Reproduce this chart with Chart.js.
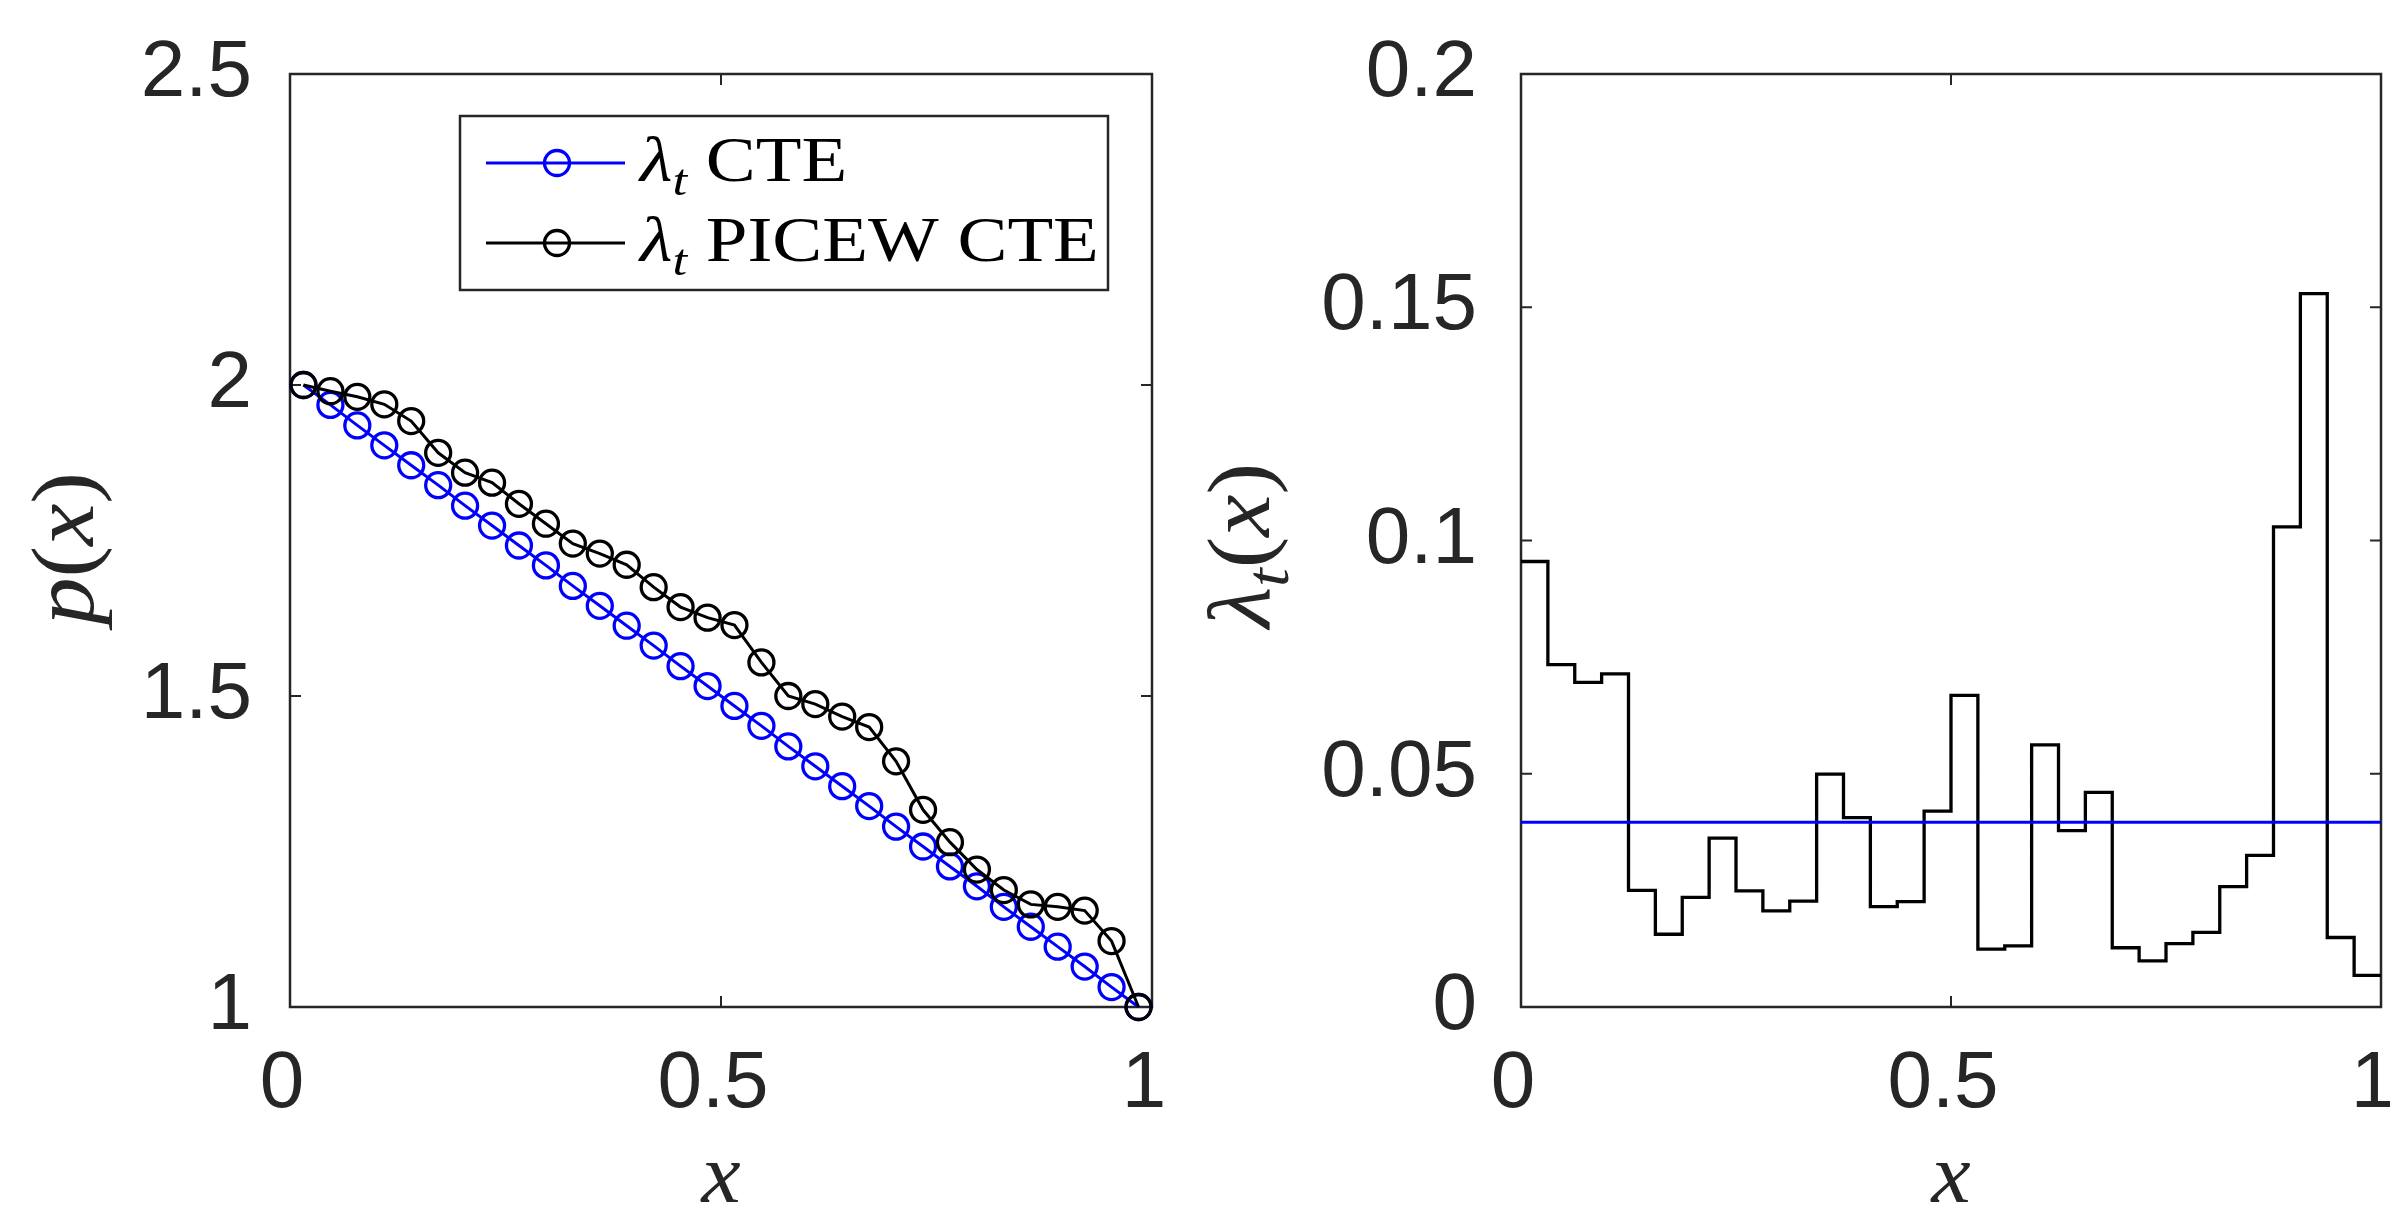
<!DOCTYPE html>
<html lang="de">
<head>
<meta charset="utf-8">
<title>p(x) und λt(x)</title>
<script src="https://cdn.jsdelivr.net/npm/chart.js@4.4.1/dist/chart.umd.min.js"></script>
<style>
  html, body { margin: 0; padding: 0; background: #fff; }
  #wrap { position: relative; width: 2390px; height: 1207px; overflow: hidden; }
  canvas { position: absolute; top: 0; }
  #chartP { left: 0; }
  #chartLam { left: 1195px; }
</style>
</head>
<body>
<div id="wrap">
  <canvas id="chartP" width="1195" height="1207"></canvas>
  <canvas id="chartLam" width="1195" height="1207"></canvas>
</div>
<script>
// --- Daten ---

// Zellmitten, 32 Zellen auf [0, 1]
const xZellen = [
  0.0156, 0.0469, 0.0781, 0.1094, 0.1406, 0.1719, 0.2031, 0.2344,
  0.2656, 0.2969, 0.3281, 0.3594, 0.3906, 0.4219, 0.4531, 0.4844,
  0.5156, 0.5469, 0.5781, 0.6094, 0.6406, 0.6719, 0.7031, 0.7344,
  0.7656, 0.7969, 0.8281, 0.8594, 0.8906, 0.9219, 0.9531, 0.9844
];

// Zellgrenzen für die Treppe rechts
const xKanten = [
  0, 0.03125, 0.0625, 0.09375, 0.125, 0.15625, 0.1875, 0.21875,
  0.25, 0.28125, 0.3125, 0.34375, 0.375, 0.40625, 0.4375, 0.46875,
  0.5, 0.53125, 0.5625, 0.59375, 0.625, 0.65625, 0.6875, 0.71875,
  0.75, 0.78125, 0.8125, 0.84375, 0.875, 0.90625, 0.9375, 0.96875, 1
];

// p(x) mit konstantem lambda_t (CTE)
const pCte = [
  2.000, 1.968, 1.935, 1.903, 1.871, 1.839, 1.806, 1.774,
  1.742, 1.710, 1.677, 1.645, 1.613, 1.581, 1.548, 1.516,
  1.484, 1.452, 1.419, 1.387, 1.355, 1.323, 1.290, 1.258,
  1.226, 1.194, 1.161, 1.129, 1.097, 1.065, 1.032, 1.000
];

// p(x) mit stückweisem lambda_t (PICEW CTE)
const pPicew = [
  2.000, 1.990, 1.981, 1.969, 1.942, 1.891, 1.859, 1.843,
  1.809, 1.777, 1.745, 1.729, 1.711, 1.675, 1.643, 1.626,
  1.614, 1.554, 1.500, 1.487, 1.467, 1.450, 1.395, 1.317,
  1.265, 1.221, 1.188, 1.165, 1.161, 1.155, 1.106, 1.000
];

// lambda_t(x) je Zelle (PICEW) und konstanter Wert (CTE)
const lamPicew = [
  0.0955, 0.0734, 0.0696, 0.0714, 0.0250, 0.0156, 0.0235, 0.0362,
  0.0249, 0.0206, 0.0227, 0.0499, 0.0406, 0.0215, 0.0226, 0.0420,
  0.0668, 0.0124, 0.0131, 0.0562, 0.0378, 0.0460, 0.0127, 0.0099,
  0.0136, 0.0160, 0.0258, 0.0325, 0.1029, 0.1529, 0.0149, 0.0068
];
const lamCte = 0.0396;

// Achsenticks
const xTicks = [0, 0.5, 1];
const pTicks = [1, 1.5, 2, 2.5];
const lamTicks = [0, 0.05, 0.1, 0.15, 0.2];

// Farben
const farbeBlau = '#0000ff';
const farbeSchwarz = '#000000';
const farbeAchse = '#262626';

// --- Hilfsfunktionen ---

const tickFont = { family: '"Liberation Sans", Arial, Helvetica, sans-serif', size: 80 };
const serifFamilie = '"Liberation Serif", "Times New Roman", serif';

function formatZahl(v) {
  return String(Math.round(v * 1000) / 1000);
}

// Formel aus Teilen zeichnen (kursiv / tiefgestellt), optional horizontal gedehnt
function zeichneFormel(ctx, teile, x, y, groesse, ausrichtung, dehnung = 1) {
  const fontFuer = t => `${t.kursiv ? 'italic ' : ''}${t.tief ? Math.round(groesse * 0.7) : groesse}px ${serifFamilie}`;
  let breite = 0;
  teile.forEach(t => { ctx.font = fontFuer(t); breite += ctx.measureText(t.text).width; });
  const start = ausrichtung === 'center' ? x - breite * dehnung / 2 : x;
  ctx.save();
  ctx.translate(start, y);
  ctx.scale(dehnung, 1);
  ctx.textAlign = 'left';
  ctx.textBaseline = 'alphabetic';
  let cx = 0;
  teile.forEach(t => {
    ctx.font = fontFuer(t);
    ctx.fillText(t.text, cx, t.tief ? groesse * 0.22 : 0);
    cx += ctx.measureText(t.text).width;
  });
  ctx.restore();
}

function baueSkalen(yMin, yMax, yTickListe, yBreite, yPadding) {
  return {
    x: {
      type: 'linear', min: 0, max: 1,
      afterBuildTicks: s => { s.ticks = xTicks.map(v => ({ value: v })); },
      afterFit: s => { s.height = 200; s.paddingLeft = 0; s.paddingRight = 0; },
      grid: { display: false, drawTicks: false },
      border: { display: false },
      ticks: { font: tickFont, color: farbeAchse, padding: 30, labelOffset: -8,
               maxRotation: 0, autoSkip: false, callback: v => formatZahl(v) }
    },
    y: {
      type: 'linear', min: yMin, max: yMax,
      afterBuildTicks: s => { s.ticks = yTickListe.map(v => ({ value: v })); },
      afterFit: s => { s.width = yBreite; s.paddingTop = 0; s.paddingBottom = 0; },
      grid: { display: false, drawTicks: false },
      border: { display: false },
      ticks: { font: tickFont, color: farbeAchse, padding: yPadding,
               autoSkip: false, callback: v => formatZahl(v) }
    }
  };
}

// --- Plugins ---

// Rahmen mit innenliegenden Ticks auf allen vier Seiten (wie box on)
const rahmenPlugin = {
  id: 'rahmen',
  beforeDatasetsDraw(chart) {
    const { ctx, chartArea: a, scales } = chart;
    const len = 11;
    ctx.save();
    ctx.strokeStyle = farbeAchse;
    ctx.lineWidth = 2;
    ctx.beginPath();
    scales.x.ticks.forEach(t => {
      const px = scales.x.getPixelForValue(t.value);
      ctx.moveTo(px, a.bottom); ctx.lineTo(px, a.bottom - len);
      ctx.moveTo(px, a.top); ctx.lineTo(px, a.top + len);
    });
    scales.y.ticks.forEach(t => {
      const py = scales.y.getPixelForValue(t.value);
      ctx.moveTo(a.left, py); ctx.lineTo(a.left + len, py);
      ctx.moveTo(a.right, py); ctx.lineTo(a.right - len, py);
    });
    ctx.stroke();
    ctx.lineWidth = 2.5;
    ctx.strokeRect(a.left, a.top, a.right - a.left, a.bottom - a.top);
    ctx.restore();
  }
};

// Achsentitel (LaTeX-artig)
const titelPlugin = {
  id: 'achsenTitel',
  afterDraw(chart, args, opts) {
    const { ctx, chartArea: a } = chart;
    ctx.save();
    ctx.fillStyle = farbeAchse;
    zeichneFormel(ctx, opts.x, (a.left + a.right) / 2, a.bottom + 195, 84, 'center', 1.05);
    ctx.translate(a.left - opts.yAbstand, (a.top + a.bottom) / 2 + opts.yVersatz);
    ctx.rotate(-Math.PI / 2);
    zeichneFormel(ctx, opts.y, 0, 0, 88, 'center', 1.08);
    ctx.restore();
  }
};

// Legende im Kasten oben rechts
const legendePlugin = {
  id: 'kastenLegende',
  afterDraw(chart, args, opts) {
    if (!opts.eintraege) return;
    const { ctx, chartArea: a } = chart;
    const b = { w: 648, h: 174 };
    b.x = a.right - 44 - b.w;
    b.y = a.top + 42;
    ctx.save();
    ctx.fillStyle = '#fff';
    ctx.fillRect(b.x, b.y, b.w, b.h);
    ctx.strokeStyle = farbeAchse;
    ctx.lineWidth = 2.5;
    ctx.strokeRect(b.x, b.y, b.w, b.h);
    opts.eintraege.forEach((e, i) => {
      const ds = chart.data.datasets[e.dataset];
      const yy = b.y + 47 + i * 80;
      ctx.strokeStyle = ds.borderColor;
      ctx.lineWidth = ds.borderWidth;
      ctx.beginPath();
      ctx.moveTo(b.x + 26, yy); ctx.lineTo(b.x + 165, yy);
      ctx.stroke();
      ctx.lineWidth = ds.pointBorderWidth;
      ctx.beginPath();
      ctx.arc(b.x + 97, yy, ds.pointRadius, 0, Math.PI * 2);
      ctx.stroke();
      ctx.fillStyle = '#000';
      zeichneFormel(ctx, e.text, b.x + 180, yy + 18, 64, 'left', 1.17);
    });
    ctx.restore();
  }
};

// --- Linkes Diagramm: p(x) ---

const linienStil = (farbe, reihenfolge) => ({
  borderColor: farbe,
  borderWidth: 3,
  pointStyle: 'circle',
  pointRadius: 12.5,
  pointBorderWidth: 3.3,
  pointBackgroundColor: 'rgba(0,0,0,0)',
  pointBorderColor: farbe,
  tension: 0,
  clip: false,
  order: reihenfolge
});

new Chart(document.getElementById('chartP'), {
  type: 'line',
  data: {
    datasets: [
      { label: 'λt CTE', data: xZellen.map((x, i) => ({ x, y: pCte[i] })), ...linienStil(farbeBlau, 2) },
      { label: 'λt PICEW CTE', data: xZellen.map((x, i) => ({ x, y: pPicew[i] })), ...linienStil(farbeSchwarz, 1) }
    ]
  },
  options: {
    responsive: false,
    devicePixelRatio: 1,
    animation: false,
    events: [],
    layout: { padding: { top: 74, right: 43, left: 0, bottom: 0 } },
    scales: baueSkalen(1, 2.5, pTicks, 290, 38),
    plugins: {
      legend: { display: false },
      tooltip: { enabled: false },
      achsenTitel: {
        x: [{ text: 'x', kursiv: true }],
        y: [{ text: 'p', kursiv: true }, { text: '(' }, { text: 'x', kursiv: true }, { text: ')' }],
        yAbstand: 197, yVersatz: 8
      },
      kastenLegende: {
        eintraege: [
          { dataset: 0, text: [{ text: 'λ', kursiv: true }, { text: 't', kursiv: true, tief: true }, { text: ' CTE' }] },
          { dataset: 1, text: [{ text: 'λ', kursiv: true }, { text: 't', kursiv: true, tief: true }, { text: ' PICEW CTE' }] }
        ]
      }
    }
  },
  plugins: [rahmenPlugin, titelPlugin, legendePlugin]
});

// --- Rechtes Diagramm: lambda_t(x) ---

new Chart(document.getElementById('chartLam'), {
  type: 'line',
  data: {
    datasets: [
      {
        label: 'λt CTE',
        data: [{ x: xKanten[0], y: lamCte }, { x: xKanten[xKanten.length - 1], y: lamCte }],
        borderColor: farbeBlau, borderWidth: 3, pointRadius: 0, order: 1
      },
      {
        label: 'λt PICEW CTE',
        // letzte Kante bekommt den Wert der letzten Zelle, damit die Treppe bis x=1 reicht
        data: xKanten.map((x, i) => ({ x, y: lamPicew[Math.min(i, lamPicew.length - 1)] })),
        stepped: 'before',
        borderColor: farbeSchwarz, borderWidth: 3.3, pointRadius: 0, order: 2
      }
    ]
  },
  options: {
    responsive: false,
    devicePixelRatio: 1,
    animation: false,
    events: [],
    layout: { padding: { top: 74, right: 9, left: 0, bottom: 0 } },
    scales: baueSkalen(0, 0.2, lamTicks, 326, 44),
    plugins: {
      legend: { display: false },
      tooltip: { enabled: false },
      achsenTitel: {
        x: [{ text: 'x', kursiv: true }],
        y: [{ text: 'λ', kursiv: true }, { text: 't', kursiv: true, tief: true }, { text: '(' }, { text: 'x', kursiv: true }, { text: ')' }],
        yAbstand: 252, yVersatz: 5
      }
    }
  },
  plugins: [rahmenPlugin, titelPlugin]
});
</script>
</body>
</html>
